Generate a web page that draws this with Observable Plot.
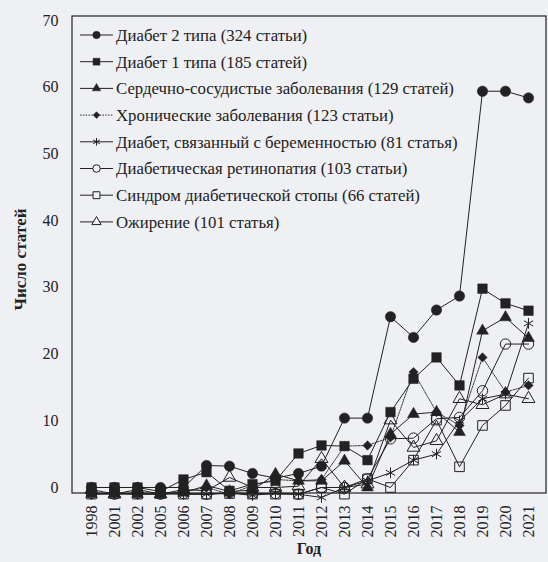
<!DOCTYPE html>
<html>
<head>
<meta charset="utf-8">
<script src="https://cdn.jsdelivr.net/npm/d3@7"></script>
<script src="https://cdn.jsdelivr.net/npm/@observablehq/plot@0.6"></script>
<style>
  html, body { margin: 0; padding: 0; background: #eff0f4; }
</style>
</head>
<body>
<div id="chart"></div>
<script>
const years = ["1998","2001","2002","2005","2006","2007","2008","2009","2010","2011","2012","2013","2014","2015","2016","2017","2018","2019","2020","2021"];

const diabetes2   = [0, 0, 0, 0, 0, 3.3, 3.2, 2.1, 1.4, 2.1, 3.2, 10.4, 10.4, 25.6, 22.5, 26.6, 28.7, 59.4, 59.4, 58.4];
const diabetes1   = [0, 0, 0, -0.6, 1.2, 2.3, -0.5, 0.5, 1, 5.1, 6.3, 6.2, 4.1, 11.3, 16.3, 19.5, 15.3, 29.8, 27.6, 26.5];
const cardio      = [-1, -0.9, -1, -1, -0.8, 0.3, -0.6, -0.4, 2, 1, 1, 4, 0, 8, 11, 11.3, 8.3, 23.5, 25.5, 22.4];
const chronic     = [-0.8, -1, -0.8, -1, -0.6, 0, -1, 0.3, 1.2, 1, 1.2, 6.2, 6.3, 7.5, 17.3, 11.3, 9.3, 19.5, 14.3, 15.3];
const gestational = [-1, -0.8, -1, -0.8, -1, -1, -0.8, -1.2, -0.8, -1, -1.5, 0, 1, 2.2, 4.1, 5, 10, 13.3, 14, 24.6];
const retinopathy = [-0.9, -1, -0.9, -1, -0.9, -1, -0.8, -0.9, -0.9, -1, 0, 0, 1.3, 7.3, 7.4, 10.3, 10.5, 14.5, 21.5, 21.5];
const foot        = [-1, -0.9, -1, -0.9, -1, -1, -0.9, -1, -1, -1, 0, -1, 1.3, 0, 4.1, 10.1, 3.1, 9.3, 12.3, 16.4];
const obesity     = [-0.3, -1, -0.3, -1, -0.3, -0.5, 1.5, 0, 0, 0.2, 4.3, 0, 0.5, 10.1, 6, 7, 13.3, 12.4, 14, 13.3];

const seriesNames = [
  "Диабет 2 типа (324 статьи)",
  "Диабет 1 типа (185 статей)",
  "Сердечно-сосудистые заболевания (129 статей)",
  "Хронические заболевания (123 статьи)",
  "Диабет, связанный с беременностью (81 статья)",
  "Диабетическая ретинопатия (103 статьи)",
  "Синдром диабетической стопы (66 статей)",
  "Ожирение (101 статья)"
];
const seriesValues = [diabetes2, diabetes1, cardio, chronic, gestational, retinopathy, foot, obesity];
const yTicks = [0, 10, 20, 30, 40, 50, 60, 70];
const yTitle = "Число статей";
const xTitle = "Год";

const ink = "#222";
const bg = "#eff0f4";
const serif = "'Liberation Serif', 'DejaVu Serif', serif";
const styles = [
  {symbol: "circle",   filled: true,  r: 5.2, dash: null},
  {symbol: "square",   filled: true,  r: 5.4, dash: null},
  {symbol: "triangle", filled: true,  r: 4.4, dash: null},
  {symbol: "diamond2", filled: true,  r: 4.2, dash: "1.6,1.2"},
  {symbol: "asterisk", filled: false, r: 5,   dash: null},
  {symbol: "circle",   filled: false, r: 5.2, dash: null},
  {symbol: "square",   filled: false, r: 5.4, dash: null},
  {symbol: "triangle", filled: false, r: 4.8, dash: null}
];

const rows = [];
seriesNames.forEach((name, i) => {
  seriesValues[i].forEach((v, j) => rows.push({series: name, idx: i, year: years[j], value: v}));
});

const marks = [
  Plot.axisY({ticks: yTicks, tickSize: 0, tickPadding: 14, fontSize: 16, label: null}),
  Plot.axisX({tickRotate: -90, tickSize: 0, tickPadding: 12, fontSize: 16, label: null})
];
seriesNames.forEach((name, i) => {
  const s = styles[i];
  const data = rows.filter(d => d.idx === i);
  marks.push(Plot.line(data, {x: "year", y: "value", stroke: ink, strokeWidth: s.dash ? 0.9 : 1, strokeDasharray: s.dash}));
});
seriesNames.forEach((name, i) => {
  const s = styles[i];
  const data = rows.filter(d => d.idx === i);
  marks.push(Plot.dot(data, {
    x: "year", y: "value", symbol: () => s.symbol, r: s.r,
    fill: s.filled ? ink : "none", stroke: ink, strokeWidth: s.filled ? 0.5 : 1
  }));
});

const chart = Plot.plot({
  width: 548, height: 562,
  marginLeft: 72, marginRight: 2, marginTop: 16, marginBottom: 69,
  style: {background: bg, fontFamily: serif, color: ink},
  x: {type: "point", domain: years, padding: 0.5},
  y: {domain: [-0.9, 70.6]},
  symbol: {type: "identity"},
  marks
});

const svg = d3.select(chart);
const xr = chart.scale("x").range, yr = chart.scale("y").range;
const pLeft = Math.min(xr[0], xr[1]), pRight = Math.max(xr[0], xr[1]);
const pTop = Math.min(yr[0], yr[1]), pBottom = Math.max(yr[0], yr[1]);

// plot-area border
svg.append("rect")
  .attr("x", pLeft).attr("y", pTop)
  .attr("width", pRight - pLeft).attr("height", pBottom - pTop)
  .attr("fill", "none").attr("stroke", ink).attr("stroke-width", 1.2);

// axis titles
svg.append("text")
  .attr("transform", `translate(${pLeft - 52},${(pTop + pBottom) / 2 + 5}) rotate(-90)`)
  .attr("text-anchor", "middle").attr("dy", "0.35em")
  .attr("font-family", serif).attr("font-size", 17).attr("font-weight", "bold")
  .attr("fill", ink).text(yTitle);
svg.append("text")
  .attr("x", (pLeft + pRight) / 2).attr("y", pBottom + 55)
  .attr("text-anchor", "middle").attr("dy", "0.35em")
  .attr("font-family", serif).attr("font-size", 16).attr("font-weight", "bold")
  .attr("fill", ink).text(xTitle);

// legend
const symMap = {circle: d3.symbolCircle, square: d3.symbolSquare, triangle: d3.symbolTriangle, diamond2: d3.symbolDiamond2, asterisk: d3.symbolAsterisk};
const lg = svg.append("g")
  .attr("font-family", serif)
  .attr("font-size", 16.8).attr("text-anchor", "start");
seriesNames.forEach((name, i) => {
  const s = styles[i];
  const ly = 35 + i * 26.7;
  const g = lg.append("g").attr("transform", `translate(0,${ly})`);
  g.append("line").attr("x1", 80).attr("x2", 113).attr("y1", 0).attr("y2", 0)
    .attr("stroke", ink).attr("stroke-width", s.dash ? 0.9 : 1).attr("stroke-dasharray", s.dash);
  const rr = s.r * 0.72;
  g.append("path").attr("transform", "translate(96.5,0)")
    .attr("d", d3.symbol(symMap[s.symbol], Math.PI * rr * rr)())
    .attr("fill", s.filled ? ink : bg).attr("stroke", ink).attr("stroke-width", s.filled ? 0.5 : 1);
  g.append("text").attr("x", 116).attr("y", 0).attr("dy", "0.35em")
    .attr("text-anchor", "start").attr("fill", ink).text(name);
});

document.getElementById("chart").appendChild(chart);
</script>
</body>
</html>
